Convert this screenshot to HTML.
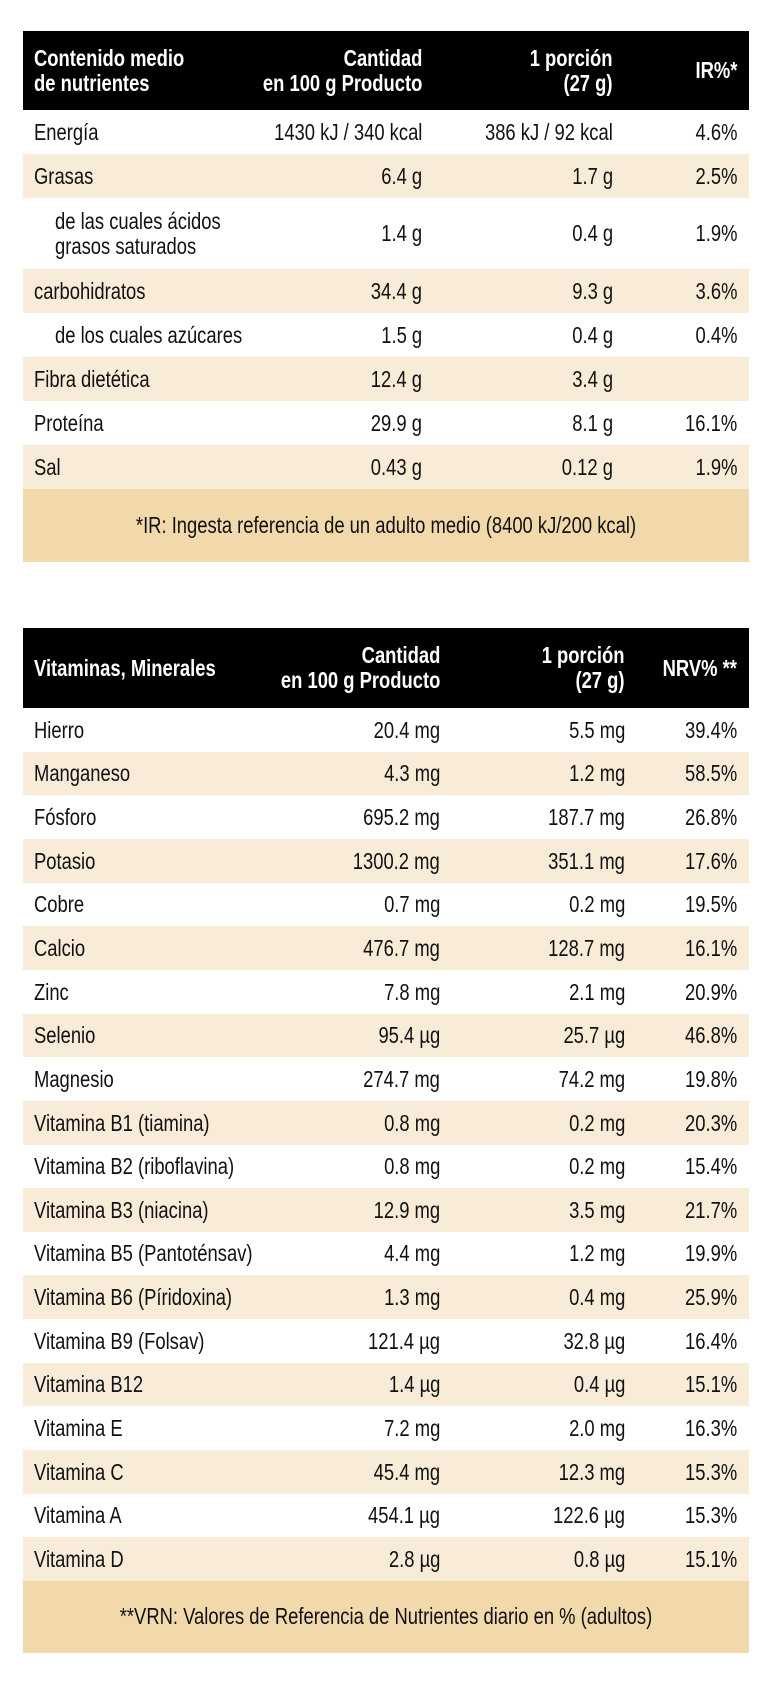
<!DOCTYPE html>
<html><head><meta charset="utf-8"><style>
*{margin:0;padding:0;box-sizing:border-box}
body{width:763px;height:1692px;background:#fff;position:relative;overflow:hidden;font-family:"Liberation Sans Narrow","Liberation Sans",sans-serif;color:#111;font-size:23px}
.r{position:absolute;left:23px;width:726px}
.hd{background:#000;color:#fff;font-weight:bold}
.c{background:#f8ebd7}
.n{background:#f1d9ab}
.t{position:absolute;white-space:nowrap;line-height:25px;transform:scaleX(.8)}
</style></head><body>
<script>
function row(top,h,cls,cells){
 let d=document.createElement('div');d.className='r '+cls;d.style.top=top+'px';d.style.height=h+'px';
 cells.forEach(c=>{let s=document.createElement('div');s.className='t';s.innerHTML=c[0];
  let lines=(c[0].match(/<br>/g)||[]).length+1;s.style.top=(h-lines*25)/2+'px';
  if(c[2]){s.style.right=(749-c[1])+'px';s.style.textAlign='right';s.style.transformOrigin='right center'}else{s.style.left=(c[1]-23)+'px';s.style.transformOrigin='left center'}
  d.appendChild(s)});
 document.body.appendChild(d);
}
row(31,79,'hd',[['Contenido medio<br>de nutrientes',34],['Cantidad<br>en 100 g Producto',422,1],['1 porción<br>(27 g)',613,1],['IR%*',737,1]]);
const t1=[['Energía','1430 kJ / 340 kcal','386 kJ / 92 kcal','4.6%',44,34],
['Grasas','6.4 g','1.7 g','2.5%',44,34],
['de las cuales ácidos<br>grasos saturados','1.4 g','0.4 g','1.9%',71,55],
['carbohidratos','34.4 g','9.3 g','3.6%',44,34],
['de los cuales azúcares','1.5 g','0.4 g','0.4%',44,55],
['Fibra dietética','12.4 g','3.4 g','',44,34],
['Proteína','29.9 g','8.1 g','16.1%',44,34],
['Sal','0.43 g','0.12 g','1.9%',44,34]];
let y=110;t1.forEach((r,i)=>{row(y,r[4],i%2?'c':'',[[r[0],r[5]],[r[1],422,1],[r[2],613,1],[r[3],737,1]]);y+=r[4]});
let nd=document.createElement('div');nd.className='r n';nd.style.top='489px';nd.style.height='73px';nd.innerHTML='<div class="t" style="left:0;right:0;text-align:center;top:24px;transform-origin:center">*IR: Ingesta referencia de un adulto medio (8400 kJ/200 kcal)</div>';document.body.appendChild(nd);
row(628,80,'hd',[['Vitaminas, Minerales',34],['Cantidad<br>en 100 g Producto',440,1],['1 porción<br>(27 g)',625,1],['NRV% **',737,1]]);
const t2=[['Hierro','20.4 mg','5.5 mg','39.4%'],['Manganeso','4.3 mg','1.2 mg','58.5%'],['Fósforo','695.2 mg','187.7 mg','26.8%'],['Potasio','1300.2 mg','351.1 mg','17.6%'],['Cobre','0.7 mg','0.2 mg','19.5%'],['Calcio','476.7 mg','128.7 mg','16.1%'],['Zinc','7.8 mg','2.1 mg','20.9%'],['Selenio','95.4 µg','25.7 µg','46.8%'],['Magnesio','274.7 mg','74.2 mg','19.8%'],['Vitamina B1 (tiamina)','0.8 mg','0.2 mg','20.3%'],['Vitamina B2 (riboflavina)','0.8 mg','0.2 mg','15.4%'],['Vitamina B3 (niacina)','12.9 mg','3.5 mg','21.7%'],['Vitamina B5 (Pantoténsav)','4.4 mg','1.2 mg','19.9%'],['Vitamina B6 (Píridoxina)','1.3 mg','0.4 mg','25.9%'],['Vitamina B9 (Folsav)','121.4 µg','32.8 µg','16.4%'],['Vitamina B12','1.4 µg','0.4 µg','15.1%'],['Vitamina E','7.2 mg','2.0 mg','16.3%'],['Vitamina C','45.4 mg','12.3 mg','15.3%'],['Vitamina A','454.1 µg','122.6 µg','15.3%'],['Vitamina D','2.8 µg','0.8 µg','15.1%']];
t2.forEach((r,i)=>{let top=Math.round(708+i*43.65);let h=Math.round(708+(i+1)*43.65)-top;row(top,h,i%2?'c':'',[[r[0],34],[r[1],440,1],[r[2],625,1],[r[3],737,1]])});
let nd2=document.createElement('div');nd2.className='r n';nd2.style.top='1581px';nd2.style.height='72px';nd2.innerHTML='<div class="t" style="left:0;right:0;text-align:center;top:23px;transform-origin:center">**VRN: Valores de Referencia de Nutrientes diario en % (adultos)</div>';document.body.appendChild(nd2);
</script>
</body></html>
